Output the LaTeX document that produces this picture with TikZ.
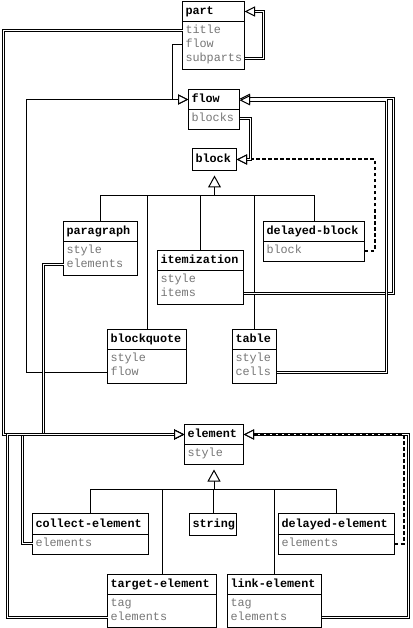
\documentclass[tikz,border=0pt]{standalone}
\usepackage{fontspec}
\newfontfamily\umlfont{Liberation Mono}
\usetikzlibrary{arrows.meta,calc}
\definecolor{attrgray}{HTML}{777777}
\newcommand\umlclass[7]{%
  \node[hdr, text width=#4pt-6pt, minimum height=#5pt] (#1) at (#2,#3) {#7};
  \ifx&#6&\else
  \node[body, minimum width=#4pt, minimum height=#6pt] (#1-body) at (#1.south west) {};
  \fi
}
\newcommand\umlattr[3]{%
  \node[attr] (#1-#2) at ($(#1-body.north west)+(3,#3)$) {#2};
}
\tikzset{
  hdr/.style={draw, line width=1pt, rectangle, anchor=north west, inner xsep=3pt, inner ysep=0pt, outer sep=0pt,
    font=\umlfont\bfseries\fontsize{11.8pt}{14pt}\selectfont, align=left, text height=6.2pt, text depth=0pt},
  body/.style={draw, line width=1pt, rectangle, anchor=north west, inner sep=0pt, outer sep=0pt},
  attr/.style={anchor=west, inner sep=0pt, outer sep=0pt, text=attrgray, text height=6.2pt, text depth=0pt,
    font=\umlfont\fontsize{11.8pt}{14pt}\selectfont},
  dbl/.style={double, double distance=1.5pt, line width=0.9pt},
  sgl/.style={line width=1pt},
  dsh/.style={line width=2pt, dash pattern=on 3.5pt off 2.5pt},
  nav/.style={-{Triangle[open, length=10.5pt, width=10pt, fill=white, line width=1pt]}},
  inh/.style={-{Triangle[open, length=12pt, width=13pt, fill=white]}, shorten >=5pt},
}
\begin{document}
\begin{tikzpicture}[x=1pt, y=-1pt]
\path[fill=white, use as bounding box] (0,0) rectangle (412,628);
\begin{scope}[shift={(0.5,0.5)}]
% classes
\umlclass{part}{182}{1}{62}{20}{48}{part}
\umlattr{part}{title}{9}
\umlattr{part}{flow}{23}
\umlattr{part}{subparts}{37}

\umlclass{flow}{188}{89}{51}{20}{20}{flow}
\umlattr{flow}{blocks}{9}

\umlclass{block}{192}{148}{44}{22}{}{block}

\umlclass{paragraph}{63}{221}{74}{20}{34}{paragraph}
\umlattr{paragraph}{style}{9}
\umlattr{paragraph}{elements}{23}

\umlclass{itemization}{157}{250}{86}{20}{34}{itemization}
\umlattr{itemization}{style}{9}
\umlattr{itemization}{items}{23}

\umlclass{delayed-block}{263}{221}{101}{20}{20}{delayed-block}
\umlattr{delayed-block}{block}{9}

\umlclass{blockquote}{107}{329}{79}{20}{34}{blockquote}
\umlattr{blockquote}{style}{9}
\umlattr{blockquote}{flow}{23}

\umlclass{table}{232}{329}{44}{20}{34}{table}
\umlattr{table}{style}{9}
\umlattr{table}{cells}{23}

\umlclass{element}{184}{424}{59}{20}{20}{element}
\umlattr{element}{style}{9}

\umlclass{collect-element}{32}{513}{116}{21}{20}{collect-element}
\umlattr{collect-element}{elements}{9}

\umlclass{string}{189}{513}{47}{22}{}{string}

\umlclass{delayed-element}{278}{513}{116}{21}{20}{delayed-element}
\umlattr{delayed-element}{elements}{9}

\umlclass{target-element}{107}{574}{109}{20}{33}{target-element}
\umlattr{target-element}{tag}{9}
\umlattr{target-element}{elements}{23}

\umlclass{link-element}{227}{574}{94}{20}{33}{link-element}
\umlattr{link-element}{tag}{9}
\umlattr{link-element}{elements}{23}

% inheritance
\coordinate (bbar) at (0,195);
\coordinate (ebar) at (0,489);
\draw[sgl, inh] (block.south |- bbar) -- (block.south);
\draw[sgl] (paragraph.north) |- (delayed-block.north |- bbar) -- (delayed-block.north);
\draw[sgl] (blockquote.north) -- (blockquote.north |- bbar);
\draw[sgl] (itemization.north) -- (itemization.north |- bbar);
\draw[sgl] (table.north) -- (table.north |- bbar);

\draw[sgl, inh] (element-body.south |- ebar) -- (element-body.south);
\draw[sgl] (collect-element.north) |- (delayed-element.north |- ebar) -- (delayed-element.north);
\draw[sgl] (target-element.north) -- (target-element.north |- ebar);
\draw[sgl] (string.north) -- (string.north |- ebar);
\draw[sgl] (link-element.north) -- (link-element.north |- ebar);

% associations
\draw[dbl, nav] (part-subparts -| part.east) -- ++(19,0) |- (part.east);
\draw[dbl, nav] (part-title -| part.west) -- ++(-179,0) |- (element.west);
\draw[sgl, nav] (part-flow -| part.west) -- ++(-10,0) |- (flow.west);
\draw[sgl, nav] (blockquote-flow -| blockquote.west) -- ++(-81,0) |- (flow.west);
\draw[dsh, nav] (delayed-block-block -| delayed-block.east) -- ++(10,0) |- (block.east);
\draw[dbl, nav] (flow-blocks -| flow.east) -- ++(11,0) |- (block.east);
\draw[dbl, nav] (itemization-items -| itemization.east) -- ++(150,0) |- ($(flow.east)+(0,-0.75)$);
\draw[dbl, nav] (table-cells -| table.east) -- ++(110,0) |- ($(flow.east)+(0,0.75)$);
\draw[dbl, nav] (paragraph-elements -| paragraph.west) -- ++(-20,0) |- (element.west);
\draw[dbl, nav] (collect-element-elements -| collect-element.west) -- ++(-10,0) |- (element.west);
\draw[dbl, nav] (target-element-elements -| target-element.west) -- ++(-100,0) |- (element.west);
\draw[dbl, nav] (link-element-elements -| link-element.east) -- ++(87,0) |- (element.east);
\draw[dsh, nav] (delayed-element-elements -| delayed-element.east) -- ++(9,0) |- (element.east);
\end{scope}
\end{tikzpicture}
\end{document}
